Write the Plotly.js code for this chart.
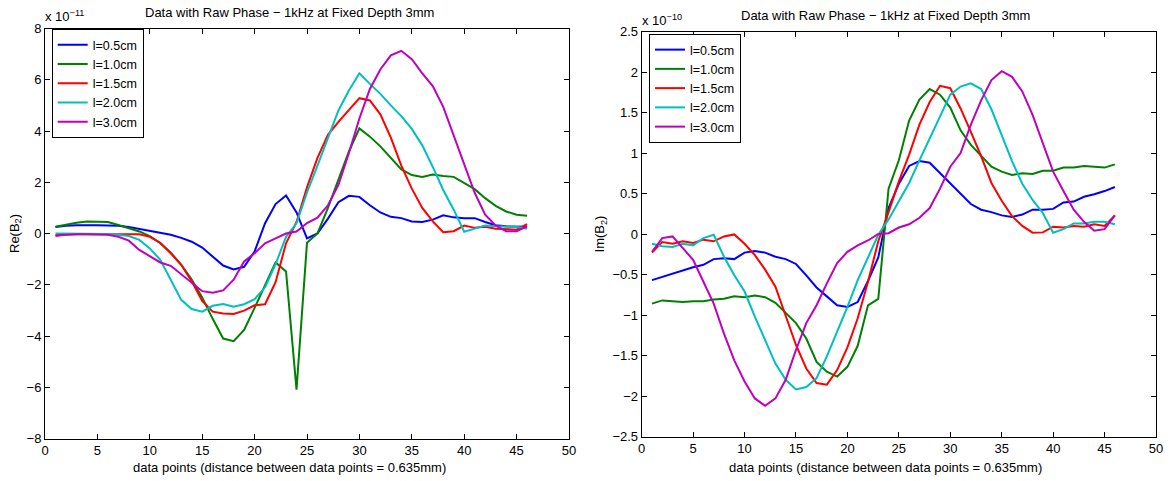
<!DOCTYPE html>
<html>
<head>
<meta charset="utf-8">
<script src="https://cdn.plot.ly/plotly-3.0.1.min.js"></script>
<style>html,body{margin:0;padding:0;background:#fff}#chart{width:1171px;height:481px}</style>
</head>
<body>
<div id="chart"></div>
<script>
// data point index
const pts = [1,2,3,4,5,6,7,8,9,10,11,12,13,14,15,16,17,18,19,20,21,22,23,24,25,26,27,28,29,30,31,32,33,34,35,36,37,38,39,40,41,42,43,44,45,46];

const seriesNames = ['l=0.5cm','l=1.0cm','l=1.5cm','l=2.0cm','l=3.0cm'];

// Re(B2), units of 1e-11
const reL05 = [0.25,0.3,0.32,0.33,0.32,0.31,0.3,0.25,0.18,0.1, 0.03,-0.05,-0.17,-0.32,-0.55,-0.9,-1.25,-1.4,-1.3,-0.7, 0.4,1.15,1.48,0.82,-0.19,0.0,0.58,1.22,1.47,1.43, 1.1,0.82,0.65,0.6,0.47,0.45,0.54,0.71,0.63,0.6, 0.6,0.45,0.32,0.28,0.26,0.26];
const reL10 = [0.26,0.35,0.42,0.47,0.47,0.45,0.33,0.22,0.08,-0.1, -0.38,-0.75,-1.22,-1.8,-2.5,-3.33,-4.1,-4.2,-3.76,-2.9, -2.0,-1.13,-1.48,-6.09,-0.36,0.0,1.0,2.1,3.2,4.1, 3.78,3.4,2.95,2.5,2.28,2.21,2.3,2.24,2.21,1.98, 1.73,1.38,1.08,0.86,0.73,0.69];
const reL15 = [-0.1,-0.04,-0.03,-0.03,-0.03,-0.03,-0.03,-0.03,-0.03,-0.13, -0.36,-0.77,-1.22,-1.86,-2.63,-3.05,-3.12,-3.14,-3.01,-2.8, -2.76,-1.9,-0.38,0.45,1.8,2.95,3.85,4.36,4.81,5.28, 5.19,4.65,3.74,2.65,1.75,1.0,0.47,0.05,0.09,0.31, 0.22,0.26,0.19,0.18,0.15,0.37];
const reL20 = [0.0,0.0,0.0,0.0,0.0,-0.02,-0.05,-0.1,-0.25,-0.58, -1.03,-1.8,-2.59,-2.95,-3.05,-2.82,-2.75,-2.86,-2.76,-2.56, -2.1,-1.2,-0.13,0.4,1.6,2.65,3.7,4.8,5.58,6.25, 5.84,5.45,5.0,4.58,4.08,3.44,2.6,1.7,0.93,0.07, 0.19,0.31,0.28,0.26,0.26,0.18];
const reL30 = [-0.07,-0.04,-0.03,-0.03,-0.03,-0.05,-0.13,-0.28,-0.64,-0.87, -1.13,-1.26,-1.6,-1.92,-2.25,-2.31,-2.22,-1.8,-1.09,-0.77, -0.38,-0.19,0.0,0.08,0.41,0.62,1.1,1.9,3.14,4.49, 5.64,6.4,6.95,7.13,6.8,6.25,5.75,4.94,3.82,2.63, 1.59,0.73,0.31,0.09,0.09,0.28];

// Im(B2), units of 1e-10
const imL05 = [-0.57,-0.53,-0.49,-0.45,-0.41,-0.38,-0.31,-0.30,-0.31,-0.23, -0.21,-0.23,-0.28,-0.31,-0.37,-0.51,-0.66,-0.77,-0.88,-0.9, -0.84,-0.58,-0.29,0.32,0.62,0.84,0.9,0.88,0.75,0.63, 0.5,0.37,0.3,0.27,0.23,0.21,0.24,0.3,0.3,0.31, 0.39,0.4,0.46,0.49,0.53,0.58];
const imL10 = [-0.86,-0.82,-0.83,-0.84,-0.83,-0.83,-0.81,-0.8,-0.77,-0.78, -0.76,-0.78,-0.85,-0.97,-1.1,-1.29,-1.58,-1.7,-1.76,-1.64, -1.38,-0.88,-0.8,0.56,0.91,1.4,1.66,1.79,1.72,1.56, 1.28,1.1,0.96,0.83,0.77,0.73,0.75,0.74,0.78,0.78, 0.82,0.82,0.84,0.83,0.82,0.86];
const imL15 = [-0.23,-0.1,-0.12,-0.09,-0.11,-0.07,-0.09,-0.03,-0.005,-0.12, -0.26,-0.44,-0.65,-1.0,-1.37,-1.66,-1.84,-1.86,-1.68,-1.4, -1.04,-0.59,-0.09,0.27,0.65,0.98,1.35,1.63,1.83,1.8, 1.55,1.26,0.96,0.63,0.41,0.22,0.1,0.016,0.02,0.09, 0.08,0.1,0.09,0.12,0.1,0.23];
const imL20 = [-0.12,-0.15,-0.16,-0.12,-0.14,-0.05,-0.01,-0.28,-0.51,-0.71, -1.02,-1.31,-1.6,-1.8,-1.92,-1.89,-1.78,-1.51,-1.21,-0.9, -0.57,-0.28,-0.01,0.18,0.4,0.63,0.91,1.18,1.45,1.72, 1.82,1.86,1.79,1.54,1.22,0.9,0.62,0.42,0.26,0.016, 0.06,0.13,0.13,0.15,0.15,0.12];
const imL30 = [-0.22,-0.05,-0.03,-0.17,-0.32,-0.59,-0.86,-1.23,-1.56,-1.82, -2.03,-2.12,-2.03,-1.8,-1.43,-1.1,-0.88,-0.61,-0.36,-0.22, -0.14,-0.08,0.0,0.01,0.08,0.12,0.2,0.32,0.56,0.83, 1.0,1.35,1.65,1.9,2.01,1.94,1.76,1.47,1.12,0.77, 0.53,0.3,0.15,0.04,0.06,0.23];

const reSeries = [reL05, reL10, reL15, reL20, reL30];
const imSeries = [imL05, imL10, imL15, imL20, imL30];
const colors = ['#0000ff','#008000','#ff0000','#00bfbf','#bf00bf'];

const chartTitle = 'Data with Raw Phase \u2212 1kHz at Fixed Depth 3mm';
const xTitle = 'data points (distance between data points = 0.635mm)';

const FONT = 'Liberation Sans, Arial, Helvetica, sans-serif';
const F = {family: FONT, size: 13, color: '#000'};
const traces = [];
reSeries.forEach((ys, i) => traces.push({
  x: pts, y: ys, type: 'scatter', mode: 'lines', name: seriesNames[i],
  line: {color: colors[i], width: 2}, xaxis: 'x', yaxis: 'y', legend: 'legend'
}));
imSeries.forEach((ys, i) => traces.push({
  x: pts, y: ys, type: 'scatter', mode: 'lines', name: seriesNames[i],
  line: {color: colors[i], width: 2}, xaxis: 'x2', yaxis: 'y2', legend: 'legend2'
}));

const W = 1171, H = 481;
const L = {x0: 45, x1: 569, y0: 28.5, y1: 438.5, tc: 289};
const R = {x0: 641.7, x1: 1156, y0: 31.5, y1: 436.5, tc: 885};

const axBase = {
  showline: true, linecolor: '#000', linewidth: 1, mirror: 'ticks',
  ticks: 'inside', ticklen: 5, tickcolor: '#000', showgrid: false, zeroline: false,
  tickfont: F
};

const legBase = {xanchor: 'left', yanchor: 'top', bgcolor: '#fff', bordercolor: '#000', borderwidth: 1,
  font: {family: FONT, size: 12.5, color: '#000'}, tracegroupgap: 0, itemwidth: 30};

const layout = {
  width: W, height: H, margin: {l: 0, r: 0, t: 0, b: 0},
  paper_bgcolor: '#fff', plot_bgcolor: '#fff',
  font: F,
  showlegend: true,
  xaxis: Object.assign({}, axBase, {domain: [L.x0/W, L.x1/W], range: [0, 50], dtick: 5, tick0: 0, anchor: 'y'}),
  yaxis: Object.assign({}, axBase, {domain: [1 - L.y1/H, 1 - L.y0/H], range: [-8, 8], dtick: 2, tick0: 0, anchor: 'x',
    title: {text: 'Re(B<sub>2</sub>)', font: F, standoff: 4}}),
  xaxis2: Object.assign({}, axBase, {domain: [R.x0/W, R.x1/W], range: [0, 50], dtick: 5, tick0: 0, anchor: 'y2'}),
  yaxis2: Object.assign({}, axBase, {domain: [1 - R.y1/H, 1 - R.y0/H], range: [-2.5, 2.5], dtick: 0.5, tick0: 0, anchor: 'x2',
    title: {text: 'Im(B<sub>2</sub>)', font: F, standoff: 4}}),
  legend: Object.assign({}, legBase, {x: 51.7/W, y: 1 - 29/H}),
  legend2: Object.assign({}, legBase, {x: 649/W, y: 1 - 34/H}),
  annotations: [
    {text: chartTitle, xref: 'paper', yref: 'paper', x: L.tc/W, y: 1 - 12/H,
     xanchor: 'center', yanchor: 'middle', showarrow: false, font: F},
    {text: chartTitle, xref: 'paper', yref: 'paper', x: R.tc/W, y: 1 - 15/H,
     xanchor: 'center', yanchor: 'middle', showarrow: false, font: F},
    {text: xTitle, xref: 'paper', yref: 'paper', x: L.tc/W, y: 1 - 467/H,
     xanchor: 'center', yanchor: 'middle', showarrow: false, font: F},
    {text: xTitle, xref: 'paper', yref: 'paper', x: R.tc/W, y: 1 - 467/H,
     xanchor: 'center', yanchor: 'middle', showarrow: false, font: F},
    {text: 'x 10<sup>\u221211</sup>', xref: 'paper', yref: 'paper', x: (L.x0 - 2)/W, y: 1 - (L.y0 - 2)/H,
     xanchor: 'left', yanchor: 'bottom', showarrow: false, font: F},
    {text: 'x 10<sup>\u221210</sup>', xref: 'paper', yref: 'paper', x: (R.x0 - 2)/W, y: 1 - (R.y0 - 2)/H,
     xanchor: 'left', yanchor: 'bottom', showarrow: false, font: F}
  ]
};

Plotly.newPlot('chart', traces, layout, {staticPlot: true, displayModeBar: false});
</script>
</body>
</html>
